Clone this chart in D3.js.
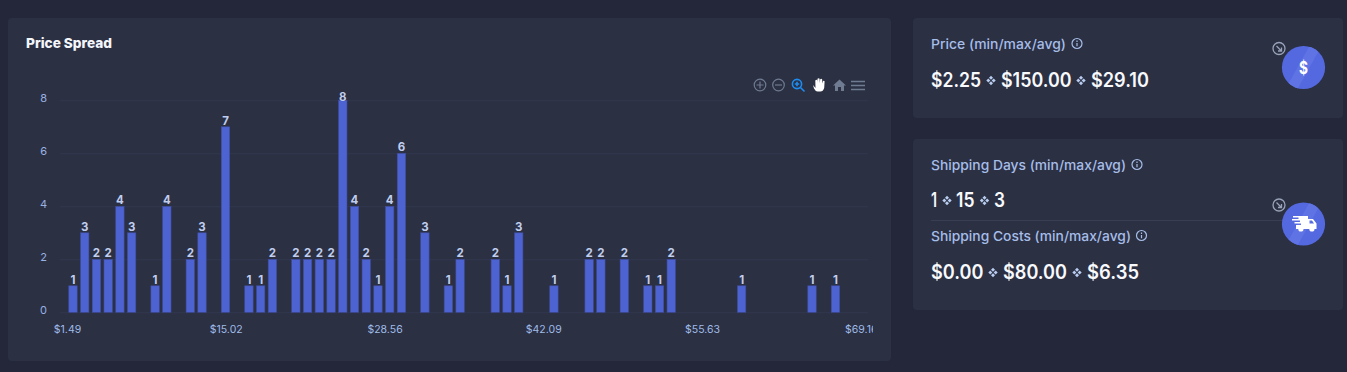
<!DOCTYPE html>
<html>
<head>
<meta charset="utf-8">
<title>Price Spread</title>
<script src="https://cdn.jsdelivr.net/npm/d3@7"></script>
<style>
    html, body { margin: 0; padding: 0; background: #24273a; overflow: hidden; }
    svg { display: block; }
    text { font-family: Inter, "Noto Sans", sans-serif; }
</style>
</head>
<body>
<div id="chart"></div>
<script>
// values
const prices = [2, 3, 4, 5, 6, 7, 9, 10, 12, 13, 15, 17, 18, 19, 21, 22, 23, 24, 25, 26, 27, 28, 29, 30, 32, 34, 35, 38, 39, 40, 43, 46, 47, 49, 51, 52, 53, 59, 65, 67];
const counts = [1, 3, 2, 2, 4, 3, 1, 4, 2, 3, 7, 1, 1, 2, 2, 2, 2, 2, 8, 4, 2, 1, 4, 6, 3, 1, 2, 2, 1, 3, 1, 2, 2, 2, 1, 1, 2, 1, 1, 1];
const xTicks = [1.49, 15.02, 28.56, 42.09, 55.63, 69.16];
const yTicks = [0, 2, 4, 6, 8];

const priceStats = ['$2.25', '$150.00', '$29.10'];
const dayStats = ['1', '15', '3'];
const costStats = ['$0.00', '$80.00', '$6.35'];

const width = 1347;
const height = 372;

const svg = d3.select('#chart')
    .append('svg')
    .attr('width', width)
    .attr('height', height)
    .attr('viewBox', `0 0 ${width} ${height}`);

const defs = svg.append('defs');
defs.append('clipPath').attr('id', 'axis-clip')
    .append('rect').attr('x', 40).attr('y', 315).attr('width', 833).attr('height', 30);

//----------------------------------------------------------------------------
// panels
function panel(x, y, w, h) {
    svg.append('rect')
        .attr('x', x).attr('y', y)
        .attr('width', w).attr('height', h)
        .attr('rx', 4)
        .attr('fill', '#2b3043');
}
panel(8, 18, 883, 343);
panel(913, 18, 430, 100);
panel(913, 139, 430, 171);

svg.append('text')
    .attr('x', 26).attr('y', 48)
    .attr('fill', '#f4f6fc')
    .attr('font-size', 13.5)
    .attr('font-weight', 800)
    .attr('textLength', 86)
    .attr('lengthAdjust', 'spacingAndGlyphs')
    .text('Price Spread');

//----------------------------------------------------------------------------
// chart
const xScale = d3.scaleLinear().domain([1.49, 69.16]).range([67, 860.8]);
const yScale = d3.scaleLinear().domain([0, 8]).range([312.3, 100.3]);
const barWidth = 8.4;

// Draw Y Axis + grid
const yAxis = d3.axisLeft(yScale).tickValues(yTicks).tickSize(0).tickPadding(13);
const yG = svg.append('g')
    .attr('transform', 'translate(60, 0)')
    .call(yAxis);
yG.select('.domain').remove();
yG.selectAll('text')
    .attr('fill', '#98b1e2')
    .attr('font-size', 11)
    .attr('dy', '0.15em')
    .style('font-family', 'Inter');
yG.selectAll('.tick line')
    .attr('x2', 808)
    .attr('stroke', '#33384d')
    .attr('stroke-width', 1);

// Draw X Axis
const xAxis = d3.axisBottom(xScale)
    .tickValues(xTicks)
    .tickFormat(d => `$${d.toFixed(2)}`)
    .tickSize(0)
    .tickPadding(13);
const xG = svg.append('g')
    .call(xAxis);
xG.select('.domain').remove();
xG.selectAll('text')
    .attr('fill', '#a0bce8')
    .attr('font-size', 10.5)
    .style('font-family', 'Inter');
svg.append('g').attr('clip-path', 'url(#axis-clip)').node().appendChild(xG.node());
xG.attr('transform', 'translate(0, 312.3)');

const bars = d3.zip(prices, counts);

svg.append('g')
    .selectAll('rect')
    .data(bars)
    .join('rect')
    .attr('x', d => xScale(d[0]) - barWidth / 2)
    .attr('y', d => yScale(d[1]))
    .attr('width', barWidth)
    .attr('height', d => yScale(0) - yScale(d[1]))
    .attr('fill', '#4e63d2')
    .attr('stroke', '#3e4c9c')
    .attr('stroke-width', 0.6);

// the tallest label gets pushed down against the top of the plot
svg.append('g')
    .selectAll('text')
    .data(bars)
    .join('text')
    .attr('x', d => xScale(d[0]))
    .attr('y', d => Math.max(yScale(d[1]) - 2.2, yScale(8) + 1))
    .attr('text-anchor', 'middle')
    .attr('fill', '#c0cdee')
    .attr('font-size', 11.5)
    .attr('font-weight', 700)
    .text(d => d[1]);

//----------------------------------------------------------------------------
// toolbar
function toolbar() {
    const grey = '#6e7b91';
    const g = svg.append('g').attr('fill', 'none').attr('stroke', grey).attr('stroke-width', 1.2);

    g.append('circle').attr('cx', 760).attr('cy', 85).attr('r', 5.8);
    g.append('path').attr('d', 'M756.5 85H763.5M760 81.5V88.5');
    g.append('circle').attr('cx', 778.5).attr('cy', 85).attr('r', 5.8);
    g.append('path').attr('d', 'M775 85H782');

    const zoom = svg.append('g').attr('fill', 'none').attr('stroke', '#1d8cf0').attr('stroke-width', 1.6);
    zoom.append('circle').attr('cx', 797).attr('cy', 84).attr('r', 4.6);
    zoom.append('path').attr('d', 'M800.5 87.5L804.5 91.5M794.8 84H799.2M797 81.8V86.2');

    svg.append('path')
        .attr('d', 'M813 85L815.5 88L815.3 80.5Q816.5 79 817.3 80.5V83L817.5 78.8Q818.8 77.5 819.6 78.8L819.8 83L820.2 79.2Q821.4 78 822.2 79.5L822.2 83.5L823 81Q824.4 80.2 824.6 81.6L824.2 88Q823 91.5 820.5 91.5H817.5Q815.5 91.5 814 88.5Z')
        .attr('fill', '#ffffff');

    svg.append('path')
        .attr('d', 'M833 85.5L839.5 79.5L846 85.5H844V91H841V87H838V91H835V85.5Z')
        .attr('fill', grey);

    g.append('path').attr('stroke-width', 1.5).attr('d', 'M851 81.5H865M851 85.5H865M851 89.5H865');
}
toolbar();

//----------------------------------------------------------------------------
// stat cards
function infoIcon(x, y, r) {
    const g = svg.append('g').attr('transform', `translate(${x}, ${y})`);
    g.append('circle').attr('r', r).attr('fill', 'none').attr('stroke', '#a6bde8').attr('stroke-width', 1.2);
    g.append('path').attr('d', `M0 ${-r * 0.1}V${r * 0.55}M0 ${-r * 0.6}V${-r * 0.3}`)
        .attr('stroke', '#a6bde8').attr('stroke-width', 1.2);
}

function separator(x, y) {
    const g = svg.append('g').attr('transform', `translate(${x}, ${y})`).attr('fill', '#b9cdf0');
    [[0, -2.7], [2.7, 0], [0, 2.7], [-2.7, 0]].forEach(p => {
        g.append('rect')
            .attr('x', -1.4).attr('y', -1.4)
            .attr('width', 2.8).attr('height', 2.8)
            .attr('transform', `translate(${p[0]}, ${p[1]}) rotate(45)`);
    });
}

function statLabel(label, x, y, w) {
    svg.append('text')
        .attr('x', x).attr('y', y)
        .attr('fill', '#a6bde8')
        .attr('font-size', 13.5)
        .attr('font-weight', 500)
        .attr('textLength', w)
        .attr('lengthAdjust', 'spacingAndGlyphs')
        .text(label);
}

function statRow(stats, xs, ws, sepXs, y) {
    stats.forEach((s, i) => {
        svg.append('text')
            .attr('x', xs[i]).attr('y', y)
            .attr('fill', '#f8f9fd')
            .attr('font-size', 19.5)
            .attr('font-weight', 600)
            .attr('textLength', ws[i])
            .attr('lengthAdjust', 'spacingAndGlyphs')
            .text(s);
    });
    sepXs.forEach(x => separator(x, y - 6.5));
}

statLabel('Price (min/max/avg)', 931, 49, 135);
infoIcon(1077, 43.5, 5);
statRow(priceStats, [931, 1001, 1091], [50, 70.5, 58], [991, 1081], 87);

statLabel('Shipping Days (min/max/avg)', 931, 170, 195);
infoIcon(1137, 164.5, 5);
statRow(dayStats, [931, 956, 994], [6, 18.5, 11], [947, 984.5], 207);

svg.append('line')
    .attr('x1', 931).attr('x2', 1290)
    .attr('y1', 220.5).attr('y2', 220.5)
    .attr('stroke', '#393e55');

statLabel('Shipping Costs (min/max/avg)', 931, 241, 200);
infoIcon(1141.5, 235.5, 5);
statRow(costStats, [931, 1003, 1087], [52.5, 64, 52], [993, 1077], 279);

function badge(cx, cy) {
    const id = `badge-clip-${cy}`;
    defs.append('clipPath').attr('id', id)
        .append('circle').attr('cx', cx).attr('cy', cy).attr('r', 21.6);
    svg.append('circle').attr('cx', cx).attr('cy', cy).attr('r', 21.6).attr('fill', '#5469e0');
    svg.append('path')
        .attr('clip-path', `url(#${id})`)
        .attr('d', `M${cx + 6.5} ${cy - 22.5}H${cx + 18.5}L${cx - 6.5} ${cy + 22.5}H${cx - 18.5}Z`)
        .attr('fill', '#5f73e4');

    // small round arrow above the badge
    const small = svg.append('g')
        .attr('transform', `translate(${cx - 24.5}, ${cy - 19})`)
        .attr('fill', 'none')
        .attr('stroke', '#98a2b8');
    small.append('circle').attr('r', 6).attr('stroke-width', 1.3);
    small.append('path').attr('stroke-width', 1.3).attr('d', 'M-2.5 -2.5L2.2 2.2M2.5 -1V2.5H-1');
}

badge(1303.5, 67.5);
svg.append('text')
    .attr('x', 1303.5).attr('y', 73.5)
    .attr('text-anchor', 'middle')
    .attr('fill', '#ffffff')
    .attr('font-size', 17)
    .attr('font-weight', 700)
    .attr('textLength', 9)
    .attr('lengthAdjust', 'spacingAndGlyphs')
    .text('$');

badge(1303.5, 224);
svg.append('path')
    .attr('fill', '#ffffff')
    .attr('fill-rule', 'evenodd')
    .attr('d', 'M1293 216H1308V219H1313L1316.5 223.5V229H1314.5A2.6 2.6 0 0 1 1309.3 229H1303.5A2.6 2.6 0 0 1 1298.3 229H1296V225H1301V223.5H1294.5V222H1300V220.5H1292V219H1298.5V217.5H1293ZM1309.5 220.5V223.5H1314L1312 220.5Z');
</script>
</body>
</html>
